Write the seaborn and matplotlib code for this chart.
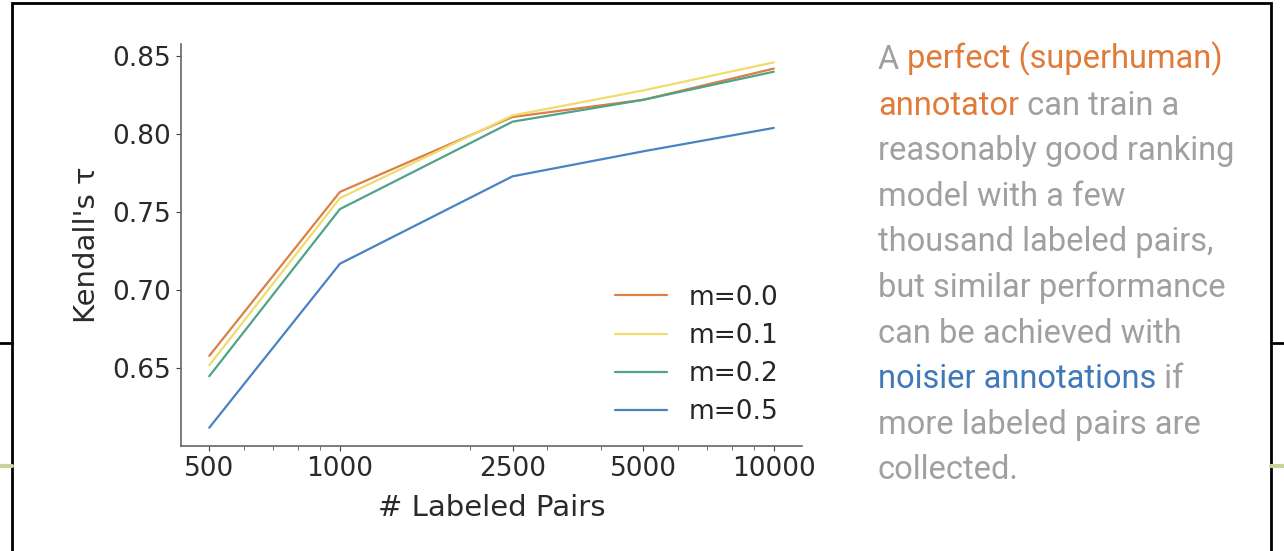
import pandas as pd
import matplotlib.pyplot as plt
import seaborn as sns
from matplotlib.lines import Line2D
from matplotlib.patches import Rectangle

pairs = [500, 1000, 2500, 5000, 10000]
tau_m00 = [0.658, 0.763, 0.811, 0.822, 0.842]
tau_m01 = [0.652, 0.759, 0.812, 0.828, 0.846]
tau_m02 = [0.645, 0.752, 0.808, 0.822, 0.840]
tau_m05 = [0.612, 0.717, 0.773, 0.789, 0.804]
series_labels = ['m=0.0', 'm=0.1', 'm=0.2', 'm=0.5']
series_colors = ['#dd7f45', '#efdc6c', '#4fa387', '#4a82c4']

rows = []
for lab, vals in zip(series_labels, [tau_m00, tau_m01, tau_m02, tau_m05]):
    for p, v in zip(pairs, vals):
        rows.append({'pairs': p, 'tau': v, 'm': lab})
df = pd.DataFrame(rows)

sns.set_style('ticks')
plt.rcParams['font.family'] = ['DejaVu Sans']

fig = plt.figure(figsize=(12.84, 5.51), dpi=100)
ax = fig.add_axes([0.141, 0.1906, 0.4836, 0.7294])

sns.lineplot(data=df, x='pairs', y='tau', hue='m', palette=series_colors,
             linewidth=1.6, ax=ax)
ax.set_xscale('log')
ax.set_xticks(pairs)
ax.set_xticklabels([str(p) for p in pairs])
ax.set_yticks([0.65, 0.70, 0.75, 0.80, 0.85])
ax.tick_params(axis='both', labelsize=19, colors='#444444', labelcolor='#2a2a2a')
ax.tick_params(which='minor', length=3, color='#555555')
ax.set_xlabel('# Labeled Pairs', fontsize=21, color='#2a2a2a', labelpad=9)
ax.set_ylabel("Kendall's τ", fontsize=21, color='#2a2a2a', labelpad=8)
for s in ['left', 'bottom']:
    ax.spines[s].set_color('#666666')
    ax.spines[s].set_linewidth(1.2)
sns.despine(ax=ax)
ax.legend(frameon=False, fontsize=19, loc='lower right',
          bbox_to_anchor=(1.0, -0.007), handlelength=2.0, labelspacing=0.46)

# slide frame and decoration lines
fig.add_artist(Rectangle((0.0093, -0.05), 0.9806, 1.0446, transform=fig.transFigure,
                         fill=False, edgecolor='black', linewidth=2))
for x0, x1 in [(0, 0.0093), (0.9899, 1)]:
    fig.add_artist(Line2D([x0, x1], [0.3775, 0.3775], color='black', linewidth=2))
    fig.add_artist(Line2D([x0, x1], [0.154, 0.154], color='#c5d49b', linewidth=3))

# side text
gray = '#a0a0a0'
orange = '#e07b39'
blue = '#3f79b9'
lines = [
    [('A ', gray), ('perfect (superhuman)', orange)],
    [('annotator', orange), (' can train a', gray)],
    [('reasonably good ranking', gray)],
    [('model with a few', gray)],
    [('thousand labeled pairs,', gray)],
    [('but similar performance', gray)],
    [('can be achieved with', gray)],
    [('noisier annotations', blue), (' if', gray)],
    [('more labeled pairs are', gray)],
    [('collected.', gray)],
]
y0 = 1 - 69 / 551
dy = 45.6 / 551
for i, segs in enumerate(lines):
    y = y0 - i * dy
    prev = None
    for txt, col in segs:
        if prev is None:
            prev = fig.text(0.6838, y, txt, color=col, fontsize=23.5,
                            family='Roboto', va='baseline', ha='left')
        else:
            prev = ax.annotate(txt, xy=(1, 0), xycoords=prev, va='bottom',
                               ha='left', color=col, fontsize=23.5, family='Roboto',
                               annotation_clip=False)

fig.savefig('out.png', dpi=100)
